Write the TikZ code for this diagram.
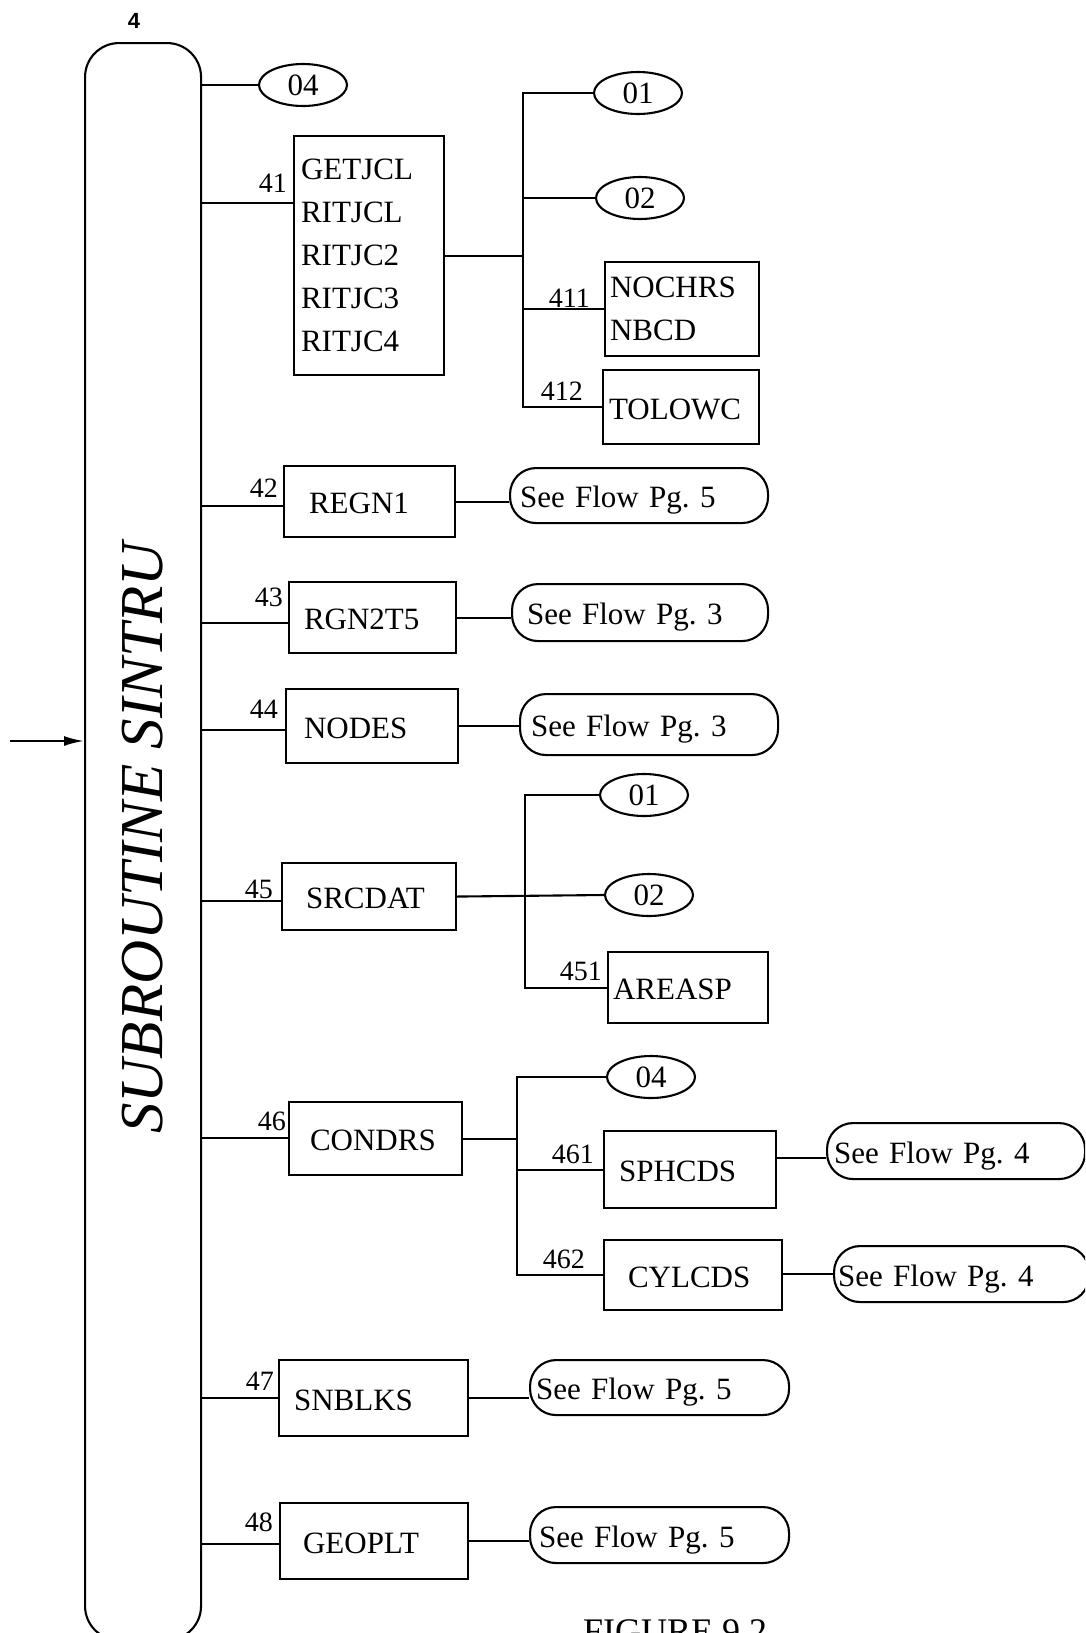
\documentclass[tikz,border=0pt]{standalone}
\usepackage{fontspec}
\setmainfont{Liberation Serif}
\setsansfont{Liberation Sans}
\usetikzlibrary{shapes.geometric,arrows.meta,calc}
\newcommand\mainsz{\fontsize{31}{43}\selectfont}
\frenchspacing
\begin{document}
\begin{tikzpicture}[x=1pt,y=-1pt,
  ln/.style={line width=2.1pt},
  bx/.style={draw, line width=2.1pt, rectangle, anchor=north west, align=left, inner ysep=0pt, font=\mainsz},
  bx1/.style={bx, text height=24pt, text depth=0pt},
  pill/.style={draw, line width=2.1pt, rounded corners=26pt, anchor=north west, align=left, inner ysep=0pt, text height=24pt, text depth=0pt, font=\mainsz},
  ov/.style={draw, ellipse, line width=2.1pt, minimum width=88pt, minimum height=42pt, inner sep=0pt, font=\mainsz},
  num/.style={anchor=base east, inner sep=0pt, font=\fontsize{28}{28}\selectfont}]
\useasboundingbox (0,0) rectangle (1085,1633);
\clip (0,0) rectangle (1085,1633);

% main box
\node[draw, line width=2.1pt, rounded corners=34pt, minimum width=116pt, minimum height=1597pt, inner sep=0pt, anchor=north west] (main) at (84,42) {};
\node[rotate=90, anchor=base, inner sep=0pt, font=\itshape\fontsize{61}{61}\selectfont] (title) at (162,838) {SUBROUTINE SINTRU};
\node[anchor=base, inner sep=0pt, font=\sffamily\bfseries\fontsize{22}{22}\selectfont] (top4) at (134,28) {4};
\coordinate (in) at (10,741);
\draw[ln,-{Latex[length=20pt,width=10pt]}] (in) -- (main.west |- in);

% branch ys
\coordinate (y41) at (0,203);
\coordinate (y42) at (0,506);
\coordinate (y43) at (0,623);
\coordinate (y44) at (0,730);
\coordinate (y45) at (0,901);
\coordinate (y46) at (0,1138);
\coordinate (y47) at (0,1398);
\coordinate (y48) at (0,1544);
\coordinate (y461) at (0,1158);
\coordinate (bus1) at (523,0);
\coordinate (bus2) at (525,0);
\coordinate (bus3) at (517,0);

% top
\node[ov] (e04) at (303,85) {04};
\node[bx, minimum width=150pt, minimum height=239pt, text width=136pt, inner xsep=7pt] (b41) at (293,135) {GETJCL\\RITJCL\\RITJC2\\RITJC3\\RITJC4};
\node[num] (l41) at (287,192) {41};
\node[ov] (e01a) at (638,93) {01};
\node[ov] (e02a) at (640,198) {02};
\node[bx, minimum width=154pt, minimum height=94pt, text width=144pt, inner xsep=5pt] (b411) at (604,261) {NOCHRS\\NBCD};
\node[num] (l411) at (590,307) {411};
\node[bx1, minimum width=156pt, minimum height=74pt, text width=144pt, inner xsep=6pt] (b412) at (602,369) {TOLOWC};
\node[num] (l412) at (583,400) {412};

% 42-44
\node[bx1, minimum width=171pt, minimum height=71pt, text width=121pt, inner xsep=25pt] (b42) at (283,465) {REGN1};
\node[num] (l42) at (278,497) {42};
\node[pill, minimum width=258pt, minimum height=55pt, text width=238pt, inner xsep=10pt] (p42) at (509,467) {See Flow Pg. 5};
\node[bx1, minimum width=167pt, minimum height=71pt, text width=137pt, inner xsep=15pt] (b43) at (288,581) {RGN2T5};
\node[num] (l43) at (283,606) {43};
\node[pill, minimum width=256pt, minimum height=57pt, text width=226pt, inner xsep=15pt] (p43) at (511,583) {See Flow Pg. 3};
\node[bx1, minimum width=172pt, minimum height=74pt, text width=136pt, inner xsep=18pt] (b44) at (285,688) {NODES};
\node[num] (l44) at (278,718) {44};
\node[pill, minimum width=258pt, minimum height=61pt, text width=236pt, inner xsep=11pt] (p44) at (519,693) {See Flow Pg. 3};

% 45
\node[bx1, minimum width=174pt, minimum height=67pt, text width=126pt, inner xsep=24pt] (b45) at (281,862) {SRCDAT};
\node[num] (l45) at (273,898) {45};
\node[ov] (e01b) at (644,795) {01};
\node[ov] (e02b) at (649,895) {02};
\node[bx1, minimum width=160pt, minimum height=71pt, text width=150pt, inner xsep=5pt] (b451) at (607,951) {AREASP};
\node[num] (l451) at (602,980) {451};

% 46
\node[bx1, minimum width=173pt, minimum height=73pt, text width=131pt, inner xsep=21pt] (b46) at (288,1101) {CONDRS};
\node[num] (l46) at (286,1130) {46};
\node[ov] (e04b) at (651,1077) {04};
\node[bx1, minimum width=172pt, minimum height=77pt, text width=142pt, inner xsep=15pt] (b461) at (603,1130) {SPHCDS};
\node[num] (l461) at (594,1163) {461};
\node[pill, minimum width=258pt, minimum height=56pt, text width=244pt, inner xsep=7pt] (p461) at (826,1122) {See Flow Pg. 4};
\node[bx1, minimum width=178pt, minimum height=70pt, text width=130pt, inner xsep=24pt] (b462) at (603,1239) {CYLCDS};
\node[num] (l462) at (585,1268) {462};
\node[pill, minimum width=255pt, minimum height=56pt, text width=247pt, inner xsep=4pt] (p462) at (833,1245) {See Flow Pg. 4};

% 47-48
\node[bx1, minimum width=189pt, minimum height=76pt, text width=159pt, inner xsep=15pt] (b47) at (278,1359) {SNBLKS};
\node[num] (l47) at (274,1390) {47};
\node[pill, minimum width=259pt, minimum height=55pt, text width=247pt, inner xsep=6pt] (p47) at (529,1359) {See Flow Pg. 5};
\node[bx1, minimum width=188pt, minimum height=76pt, text width=142pt, inner xsep=23pt] (b48) at (279,1502) {GEOPLT};
\node[num] (l48) at (273,1531) {48};
\node[pill, minimum width=259pt, minimum height=56pt, text width=241pt, inner xsep=9pt] (p48) at (529,1506) {See Flow Pg. 5};

\node[anchor=base west, inner sep=0pt, font=\fontsize{36}{36}\selectfont] (fig) at (583,1643) {FIGURE 9.2};

% connectors from main
\draw[ln] (main.east |- e04.west) -- (e04.west);
\foreach \n in {41,42,43,44,45,46,47,48}
  \draw[ln] (main.east |- y\n) -- (b\n.west |- y\n);

% group 41
\draw[ln] (b41.east) -- (b41.east -| bus1);
\draw[ln] (e01a.west) -| (b412.west -| bus1) -- (b412.west);
\draw[ln] (e02a.west -| bus1) -- (e02a.west);
\draw[ln] (b411.west -| bus1) -- (b411.west);

% pills
\draw[ln] (b42.east) -- (b42.east -| p42.west);
\draw[ln] (b43.east) -- (b43.east -| p43.west);
\draw[ln] (b44.east) -- (b44.east -| p44.west);
\draw[ln] (b461.east |- y461) -- (p461.west |- y461);
\draw[ln] (p462.west -| b462.east) -- (p462.west);
\draw[ln] (b47.east) -- (b47.east -| p47.west);
\draw[ln] (b48.east) -- (b48.east -| p48.west);

% group 45
\draw[ln] (b45.east) -- (e02b.west);
\draw[ln] (e01b.west) -| (b451.west -| bus2) -- (b451.west);

% group 46
\draw[ln] (b46.east) -- (b46.east -| bus3);
\draw[ln] (e04b.west) -| (b462.west -| bus3) -- (b462.west);
\draw[ln] (b461.west -| bus3) -- (b461.west);
\end{tikzpicture}
\end{document}
